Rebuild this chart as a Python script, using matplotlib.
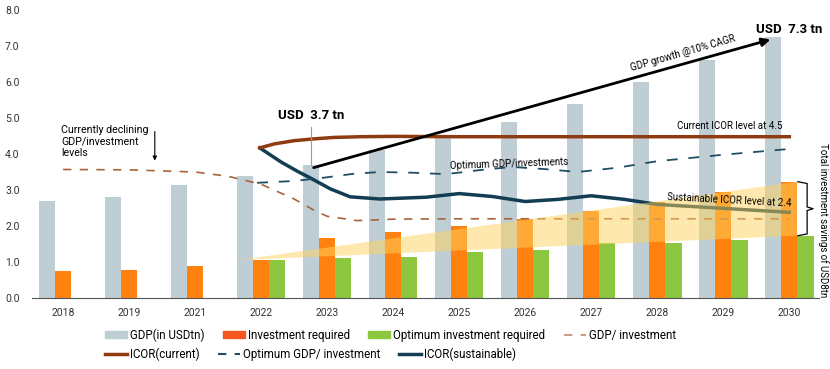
import matplotlib.pyplot as plt
import numpy as np
from matplotlib.patches import Polygon, Patch
from matplotlib.lines import Line2D

plt.rcParams['font.family'] = ['Roboto', 'DejaVu Sans']

# 데이터
years = ['2018', '2019', '2021', '2022', '2023', '2024', '2025', '2026', '2027', '2028', '2029', '2030']
gdp = [2.7, 2.8, 3.15, 3.4, 3.7, 4.1, 4.5, 4.9, 5.4, 6.0, 6.6, 7.25]
invest = [0.75, 0.78, 0.9, 1.05, 1.66, 1.82, 2.0, 2.2, 2.42, 2.67, 2.95, 3.23]
opt_years = ['2022', '2023', '2024', '2025', '2026', '2027', '2028', '2029', '2030']
optimum = [1.05, 1.1, 1.13, 1.29, 1.32, 1.53, 1.54, 1.62, 1.73]

# line series (x = category position)
gdpinv_x = [0, 1, 2, 2.5, 3.0, 3.5, 3.8, 4.0, 4.45, 5, 6, 7, 8, 9, 10, 11]
gdpinv = [3.57, 3.56, 3.5, 3.38, 3.16, 2.75, 2.44, 2.27, 2.15, 2.19, 2.2, 2.2, 2.2, 2.2, 2.2, 2.2]
icor_cur_x = [2.98, 3.2, 3.5, 3.8, 4.1, 4.5, 5, 6, 7, 8, 9, 10, 11]
icor_cur = [4.17, 4.28, 4.37, 4.42, 4.46, 4.48, 4.49, 4.48, 4.48, 4.48, 4.48, 4.48, 4.48]
icor_sus_x = [2.98, 3.3, 3.55, 3.75, 4.05, 4.35, 4.8, 5.5, 6.0, 6.5, 7.0, 7.5, 8.0, 8.5, 9.0, 10.0, 11.0]
icor_sus = [4.17, 3.78, 3.52, 3.33, 3.03, 2.81, 2.75, 2.8, 2.9, 2.82, 2.68, 2.74, 2.84, 2.74, 2.6, 2.49, 2.38]
opt_gdp_x = [2.94, 3.5, 3.9, 4.4, 4.8, 5.3, 5.8, 6.3, 6.8, 7.3, 7.8, 8.4, 9.0, 10.0, 11.0]
opt_gdp = [3.2, 3.25, 3.33, 3.45, 3.5, 3.48, 3.44, 3.55, 3.64, 3.58, 3.5, 3.62, 3.8, 3.98, 4.14]

x = np.arange(len(years))
xo = np.array([years.index(y) for y in opt_years])
w = 0.245

fig = plt.figure(figsize=(8.3, 3.69), dpi=100)
ax = fig.add_axes([32/830, 1-298/369, 787/830, 288/369])

c_gdp = '#BFCDD5'
c_inv = '#FF8210'
c_opt = '#8DC63F'
ax.bar(x - w, gdp, w, color=c_gdp, zorder=2)
ax.bar(x, invest, w, color=c_inv, zorder=2)
ax.bar(xo + w, optimum, w, color=c_opt, zorder=2)

# 선
ax.plot(gdpinv_x, gdpinv, color='#A8643C', lw=1.2, dashes=(5, 5), zorder=3)
ax.plot(icor_sus_x, icor_sus, color='#123D52', lw=2.5, zorder=3)
ax.plot(opt_gdp_x, opt_gdp, color='#1F4E63', lw=1.3, dashes=(6, 6), zorder=5)
ax.plot(icor_cur_x, icor_cur, color='#8E3B12', lw=2.5, zorder=5)

# savings wedge
i22 = years.index('2022')
i30 = years.index('2030')
wedge = Polygon([(i22 - 0.36, invest[i22]), (i30 + 0.12, invest[i30]), (i30 + 0.12, optimum[-1])],
                closed=True, facecolor='#FFD35C', alpha=0.5, lw=0, zorder=4)
ax.add_patch(wedge)

# GDP growth arrow
i23 = years.index('2023')
ax.annotate('', xy=(i30 - w, gdp[i30] - 0.05), xytext=(i23 - w, gdp[i23] - 0.1),
            arrowprops=dict(arrowstyle='-|>', color='black', lw=2, mutation_scale=12), zorder=6)
ax.text(9.39, 6.8, 'GDP growth @10% CAGR', rotation=16, ha='center', va='center', fontsize=7)

ax.plot([i23 - w, i23 - w], [gdp[i23], 4.75], color='#999999', lw=0.8, zorder=5)
ax.text(i23 - w, 5.06, 'USD  3.7 tn', ha='center', va='center', fontsize=9.5, fontweight='bold')
ax.text(i30, 7.47, 'USD  7.3 tn', ha='center', va='center', fontsize=9.5, fontweight='bold')

ax.text(-0.03, 4.8, 'Currently declining\nGDP/investment\nlevels', ha='left', va='top',
        fontsize=7.7, linespacing=1.15)
ax.annotate('', xy=(1.39, 3.74), xytext=(1.39, 4.7),
            arrowprops=dict(arrowstyle='-|>', color='black', lw=0.8, mutation_scale=6))

ax.text(10.1, 4.78, 'Current ICOR level at 4.5', ha='center', va='center', fontsize=7)
ax.text(6.76, 3.72, 'Optimum GDP/investments', ha='center', va='center', fontsize=7, rotation=2)
ax.text(10.09, 2.72, 'Sustainable ICOR level at 2.4', ha='center', va='center', fontsize=7,
        rotation=-3, zorder=7)

# brace
bx0, bx1, bx2 = i30 + 0.13, i30 + 0.27, i30 + 0.36
top, bot = invest[i30], optimum[-1]
mid = (top + bot) / 2
ax.plot([bx0, bx1, bx1, bx2, bx1, bx1, bx0], [top, top - 0.05, mid + 0.05, mid, mid - 0.05, bot + 0.05, bot],
        color='black', lw=0.9, clip_on=False, zorder=6)
ax.text(11.52, 2.17, 'Total investment savings of USD8tn', rotation=270, ha='center', va='center',
        fontsize=7, clip_on=False)

ax.set_xlim(-0.47, 11.45)
ax.set_ylim(0, 8)
ax.set_xticks(x)
ax.set_xticklabels(years)
ax.set_yticks(np.arange(0, 8.1, 1))
ax.set_yticklabels([f'{v:.1f}' for v in np.arange(0, 8.1, 1)])
ax.tick_params(axis='both', length=0, labelsize=7.5, colors='#333333')
ax.tick_params(axis='x', pad=7)
ax.tick_params(axis='y', pad=9)
for s in ['top', 'right', 'left']:
    ax.spines[s].set_visible(False)
ax.spines['bottom'].set_color('#555555')

# 범례
h1 = [Patch(color=c_gdp), Patch(color='#F4581E'), Patch(color=c_opt),
      Line2D([], [], color='#C8A08A', lw=1.5, dashes=(4, 4))]
l1 = ['GDP(in USDtn)', 'Investment required', 'Optimum investment required', 'GDP/ investment']
h2 = [Line2D([], [], color='#8E3B12', lw=2.5), Line2D([], [], color='#1F4E63', lw=1.5, dashes=(4, 4)),
      Line2D([], [], color='#123D52', lw=2.5)]
l2 = ['ICOR(current)', 'Optimum GDP/ investment', 'ICOR(sustainable)']
kw = dict(frameon=False, fontsize=8.3, handlelength=1.9, handleheight=0.55, handletextpad=0.26,
          columnspacing=1.6, borderpad=0, borderaxespad=0, loc='center left')
leg1 = fig.legend(h1, l1, ncol=4, bbox_to_anchor=(105/830, 1-335/369), **kw)
leg2 = fig.legend(h2, l2, ncol=3, bbox_to_anchor=(105/830, 1-354/369), **kw)

fig.savefig('out.png', dpi=100)
